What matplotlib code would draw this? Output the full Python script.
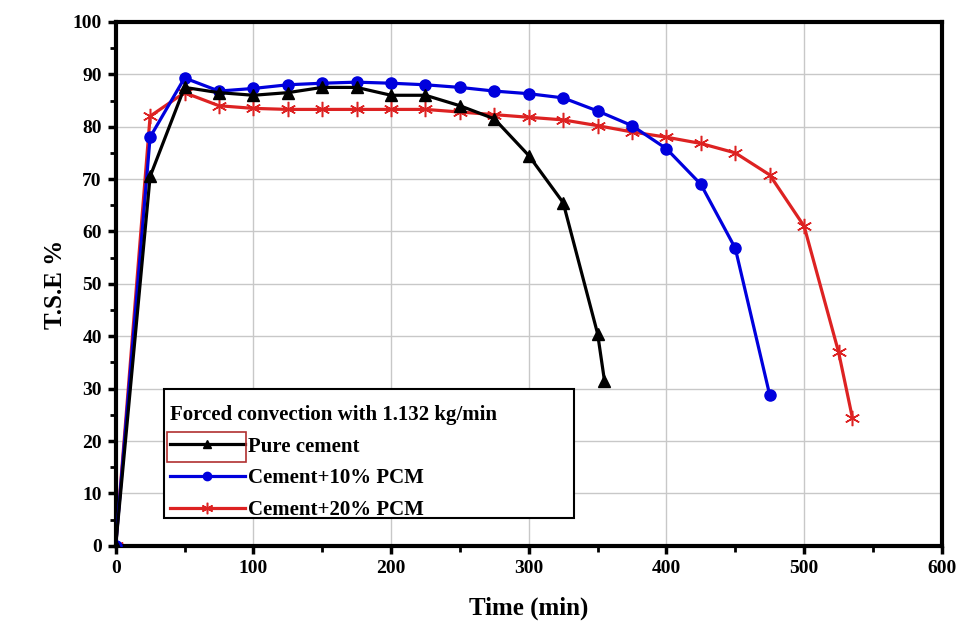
import numpy as np
import matplotlib.pyplot as plt
from matplotlib.patches import Rectangle
from matplotlib.ticker import MultipleLocator

plt.rcParams['font.family'] = ['Liberation Serif', 'DejaVu Serif']

# ---- data ----
t_pure = [0, 25, 50, 75, 100, 125, 150, 175, 200, 225, 250, 275, 300, 325, 350, 355]
tse_pure = [0, 70.5, 87.5, 86.5, 86.0, 86.5, 87.5, 87.5, 86.0, 86.0, 84.0, 81.5, 74.5, 65.5, 40.5, 31.5]

t_10 = [0, 25, 50, 75, 100, 125, 150, 175, 200, 225, 250, 275, 300, 325, 350, 375, 400, 425, 450, 475]
tse_10 = [0, 78.0, 89.3, 86.8, 87.3, 88.0, 88.3, 88.5, 88.3, 88.0, 87.5, 86.8, 86.3, 85.5, 83.0, 80.2, 75.8, 69.0, 56.8, 28.8]

t_20 = [0, 25, 50, 75, 100, 125, 150, 175, 200, 225, 250, 275, 300, 325, 350, 375, 400, 425, 450, 475, 500, 525, 535]
tse_20 = [0, 82.0, 86.5, 84.0, 83.5, 83.3, 83.3, 83.3, 83.3, 83.3, 82.8, 82.3, 81.8, 81.3, 80.2, 79.0, 78.0, 76.8, 75.0, 70.8, 61.0, 37.0, 24.5]

fig = plt.figure(figsize=(9.64, 6.26), dpi=100)
ax = fig.add_axes([0.120, 0.128, 0.857, 0.837])

ax.plot(t_pure, tse_pure, color="black", lw=2.3, marker="^", ms=8, label="Pure cement", zorder=4)
ax.plot(t_10, tse_10, color="#0000dd", lw=2.3, marker="o", ms=8, label="Cement+10% PCM", zorder=3)
ax.plot(t_20, tse_20, color="#dd2222", lw=2.3, marker=(6, 2, 0), ms=11, mew=1.1,
        label="Cement+20% PCM", zorder=2)

ax.set_xlim(0, 600)
ax.set_ylim(0, 100)
ax.xaxis.set_major_locator(MultipleLocator(100))
ax.xaxis.set_minor_locator(MultipleLocator(50))
ax.yaxis.set_major_locator(MultipleLocator(10))
ax.yaxis.set_minor_locator(MultipleLocator(5))
ax.grid(True, which="major", color="#c8c8c8", lw=1.0)
ax.set_axisbelow(True)

for s in ax.spines.values():
    s.set_linewidth(3)
ax.tick_params(which="major", direction="out", length=6, width=2.5, labelsize=14, pad=4)
ax.tick_params(which="minor", direction="out", length=4, width=2)
for lab in ax.get_xticklabels() + ax.get_yticklabels():
    lab.set_fontweight("bold")

ax.set_xlabel("Time (min)", fontsize=18, fontweight="bold", labelpad=14)
ax.set_ylabel("T.S.E %", fontsize=18, fontweight="bold", labelpad=4)

# legend frame drawn by hand so the padding can match the original
ax.add_patch(Rectangle((0.0581, 0.0534), 0.4964, 0.2462, transform=ax.transAxes,
                       facecolor="white", edgecolor="black", lw=1.5, zorder=5))
leg = ax.legend(loc="upper left", bbox_to_anchor=(0.058, 0.281),
                title="Forced convection with 1.132 kg/min",
                title_fontproperties={"weight": "bold", "size": 15},
                prop={"weight": "bold", "size": 15},
                frameon=False, handlelength=3.6, handletextpad=0.15, borderpad=0.3,
                labelspacing=0.56, markerscale=0.75, borderaxespad=0)
leg.set_zorder(6)
leg._legend_box.align = "left"

# red box around the first legend handle
fig.canvas.draw()
rend = fig.canvas.get_renderer()
tb = leg.get_texts()[0].get_window_extent(rend)
inv = fig.transFigure.inverted()
x_left = ax.transAxes.transform((0.0581, 0))[0]
(x0, y0), (x1, y1) = inv.transform([[x_left + 3, tb.y0 - 5], [tb.x0 - 2, tb.y1 + 5]])
fig.patches.append(Rectangle((x0, y0), x1 - x0, y1 - y0, transform=fig.transFigure,
                             fill=False, edgecolor="#b03030", lw=1.2, zorder=10))

fig.savefig("out.png", dpi=100)
